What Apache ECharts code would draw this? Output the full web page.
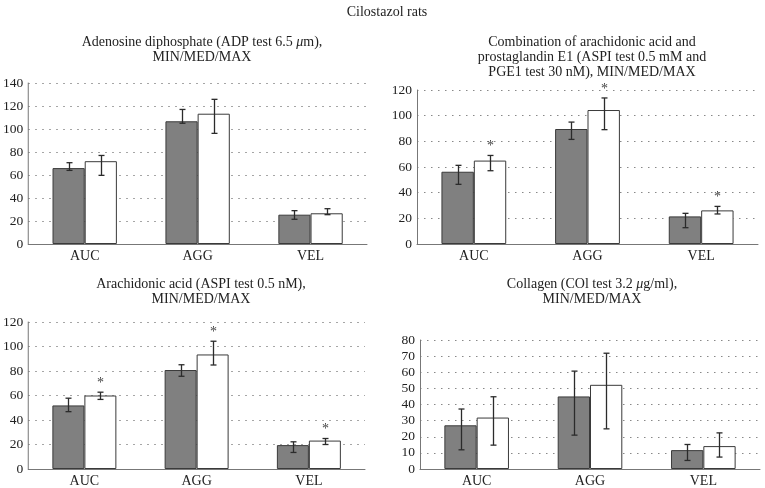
<!DOCTYPE html>
<html>
<head>
<meta charset="utf-8">
<script src="https://cdn.jsdelivr.net/npm/echarts@6/dist/echarts.min.js"></script>
<style>html,body{margin:0;padding:0;background:#fff}#c{width:765px;height:488px}</style>
</head>
<body>
<div id="c"></div>
<script>
// ---- data ----
const categories = ['AUC', 'AGG', 'VEL'];
const mainTitle = 'Cilostazol rats';
const panelTitles = [
  'Adenosine diphosphate (ADP test 6.5 {i|μ}m),\nMIN/MED/MAX',
  'Combination of arachidonic acid and\nprostaglandin E1 (ASPI test 0.5 mM and\nPGE1 test 30 nM), MIN/MED/MAX',
  'Arachidonic acid (ASPI test 0.5 nM),\nMIN/MED/MAX',
  'Collagen (COl test 3.2 {i|μ}g/ml),\nMIN/MED/MAX'
];
const yMaxes = [140, 120, 120, 80];
const yIntervals = [20, 20, 20, 10];

// Panel 1: ADP
const adpControlMed = [66, 106.7, 25.5];
const adpControlMin = [64, 105, 21.5];
const adpControlMax = [70.7, 117, 29];
const adpCiloMed = [72, 113.3, 26.7];
const adpCiloMin = [59.7, 96.2, 25.5];
const adpCiloMax = [77, 125.8, 30.7];
const adpStars = [0, 0, 0];

// Panel 2: ASPI + PGE1
const aspiPgeControlMed = [56.3, 89.6, 21.5];
const aspiPgeControlMin = [46.5, 81.5, 12.7];
const aspiPgeControlMax = [61.3, 95, 23.9];
const aspiPgeCiloMed = [65, 104.4, 26.2];
const aspiPgeCiloMin = [57.1, 89.1, 23.4];
const aspiPgeCiloMax = [69, 113.8, 29.3];
const aspiPgeStars = [1, 1, 1];

// Panel 3: ASPI
const aspiControlMed = [51.9, 80.8, 19.5];
const aspiControlMin = [46.8, 75.7, 13.5];
const aspiControlMax = [57.8, 85.1, 22.2];
const aspiCiloMed = [60, 93.5, 23.2];
const aspiCiloMin = [56.8, 84.9, 20];
const aspiCiloMax = [62.7, 104.3, 24.9];
const aspiStars = [1, 1, 1];

// Panel 4: Collagen
const colControlMed = [27.1, 45, 11.7];
const colControlMin = [11.9, 21, 5.3];
const colControlMax = [37.2, 60.7, 15.2];
const colCiloMed = [31.9, 52.2, 14.2];
const colCiloMin = [14.8, 24.9, 7.4];
const colCiloMax = [44.8, 71.8, 22.4];
const colStars = [0, 0, 0];

// ---- layout ----
const FONT = '"Liberation Serif", "DejaVu Serif", serif';
const panels = [
  {ctl: [adpControlMed, adpControlMin, adpControlMax], cil: [adpCiloMed, adpCiloMin, adpCiloMax], stars: adpStars,
   grid: {left: 25, top: 83, width: 342, height: 161}, titleX: 197, titleY: 30},
  {ctl: [aspiPgeControlMed, aspiPgeControlMin, aspiPgeControlMax], cil: [aspiPgeCiloMed, aspiPgeCiloMin, aspiPgeCiloMax], stars: aspiPgeStars,
   grid: {left: 417, top: 90, width: 341, height: 154}, titleX: 587, titleY: 30},
  {ctl: [aspiControlMed, aspiControlMin, aspiControlMax], cil: [aspiCiloMed, aspiCiloMin, aspiCiloMax], stars: aspiStars,
   grid: {left: 26, top: 322, width: 339, height: 148}, titleX: 196, titleY: 272},
  {ctl: [colControlMed, colControlMin, colControlMax], cil: [colCiloMed, colCiloMin, colCiloMax], stars: colStars,
   grid: {left: 420, top: 340, width: 340, height: 130}, titleX: 587, titleY: 272}
];

const BAR_PCT = 0.285;
const grids = [], xAxes = [], yAxes = [], series = [];
const titles = [{
  text: mainTitle, left: 382, top: 0, textAlign: 'center',
  textStyle: {fontFamily: FONT, fontSize: 14, fontWeight: 'normal', color: '#222'}
}];

panels.forEach((p, i) => {
  grids.push(Object.assign({containLabel: false}, p.grid));
  titles.push({
    text: panelTitles[i], left: p.titleX, top: p.titleY, textAlign: 'center',
    textStyle: {fontFamily: FONT, fontSize: 14, fontWeight: 'normal', color: '#222', lineHeight: 15,
      rich: {i: {fontFamily: FONT, fontSize: 14, fontStyle: 'italic', color: '#222'}}}
  });
  xAxes.push({
    type: 'category', gridIndex: i, data: categories,
    axisLine: {lineStyle: {color: '#777', width: 1}},
    axisTick: {show: false},
    axisLabel: {fontFamily: FONT, fontSize: 14, color: '#222', margin: 5},
    splitLine: {show: false}
  });
  yAxes.push({
    type: 'value', gridIndex: i, min: 0, max: yMaxes[i], interval: yIntervals[i],
    axisLine: {show: true, lineStyle: {color: '#777', width: 1}},
    axisTick: {show: false},
    axisLabel: {fontFamily: FONT, fontSize: 13.5, color: '#222', margin: 5},
    splitLine: {show: true, lineStyle: {color: '#888', type: [1.5, 5.5], width: 1}}
  });
  const barCommon = {
    type: 'bar', xAxisIndex: i, yAxisIndex: i, barWidth: (BAR_PCT * 100) + '%', barGap: '0%',
    silent: true
  };
  series.push(Object.assign({}, barCommon, {
    name: 'Control', data: p.ctl[0],
    itemStyle: {color: '#808080', borderColor: '#3a3a3a', borderWidth: 1}
  }));
  series.push(Object.assign({}, barCommon, {
    name: 'Cilostazol', data: p.cil[0],
    itemStyle: {color: '#ffffff', borderColor: '#3a3a3a', borderWidth: 1}
  }));
  [[p.ctl, -1, null], [p.cil, 1, p.stars]].forEach(([grp, side, stars]) => {
    const data = categories.map((c, k) => [k, grp[1][k], grp[2][k], stars ? stars[k] : 0]);
    series.push({
      type: 'custom', xAxisIndex: i, yAxisIndex: i, silent: true, z: 5,
      data: data,
      encode: {x: 0, y: [1, 2]},
      renderItem: function (params, api) {
        const k = api.value(0);
        const catW = api.size([1, 0])[0];
        const x = Math.round(api.coord([k, 0])[0] + side * catW * BAR_PCT / 2) + 0.5;
        const yLo = api.coord([k, api.value(1)])[1];
        const yHi = api.coord([k, api.value(2)])[1];
        const st = {stroke: '#2b2b2b', lineWidth: 1.3};
        const children = [
          {type: 'line', shape: {x1: x, y1: yLo, x2: x, y2: yHi}, style: st},
          {type: 'line', shape: {x1: x - 3, y1: yLo, x2: x + 3, y2: yLo}, style: st},
          {type: 'line', shape: {x1: x - 3, y1: yHi, x2: x + 3, y2: yHi}, style: st}
        ];
        if (api.value(3)) {
          children.push({type: 'text', style: {text: '*', x: x, y: yHi - 2, align: 'center', verticalAlign: 'bottom',
            font: '14px ' + FONT, fill: '#444'}});
        }
        return {type: 'group', children: children};
      }
    });
  });
});

const chart = echarts.init(document.getElementById('c'), null, {renderer: 'canvas'});
chart.setOption({
  backgroundColor: '#fff',
  animation: false,
  title: titles,
  grid: grids,
  xAxis: xAxes,
  yAxis: yAxes,
  series: series
});
</script>
</body>
</html>
